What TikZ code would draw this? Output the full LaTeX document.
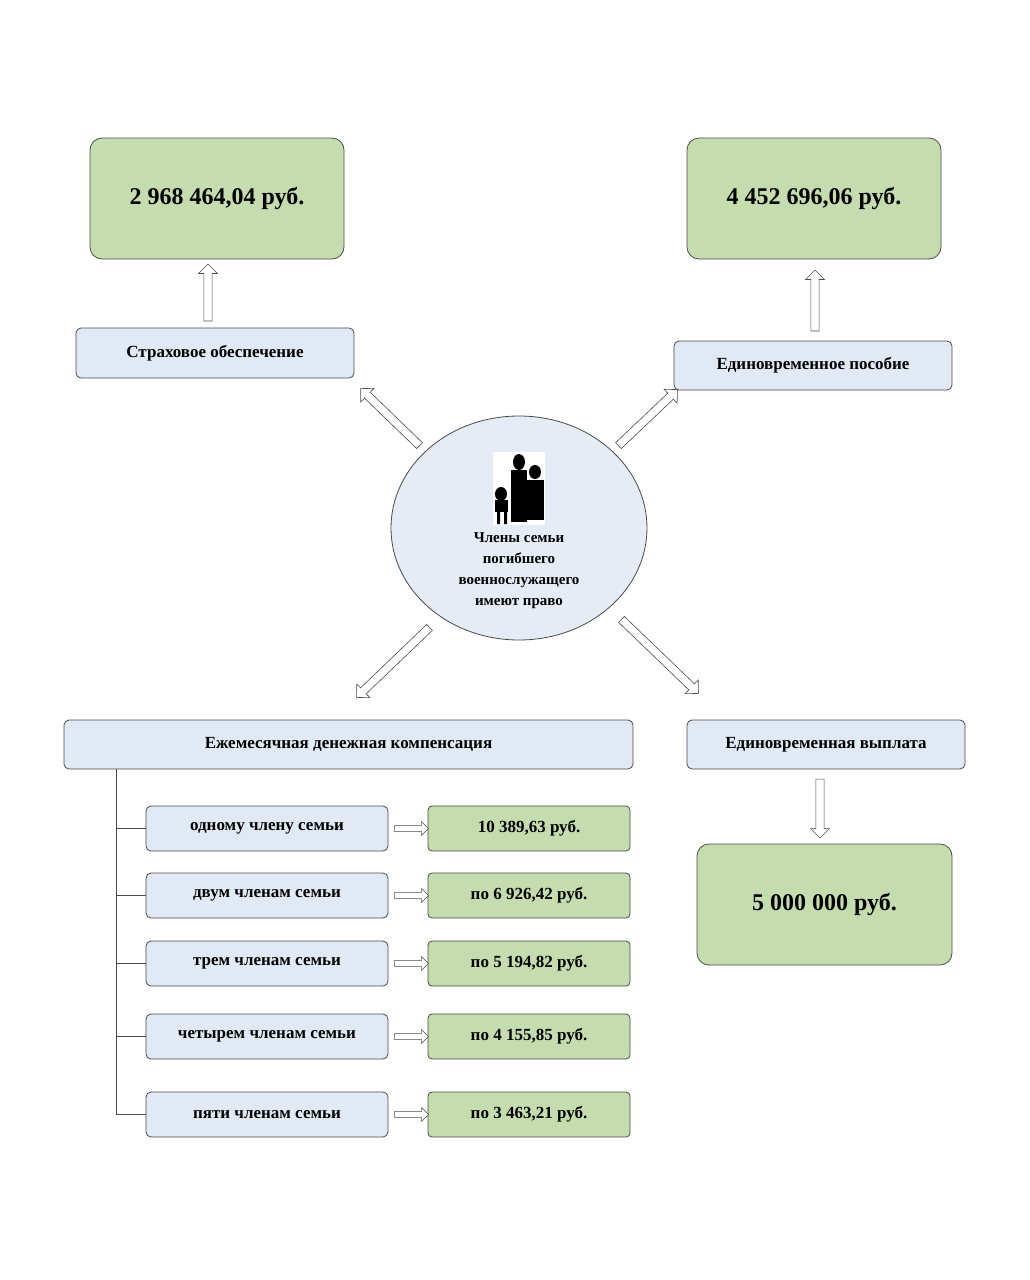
\documentclass[tikz,border=0pt]{standalone}
\usepackage{fontspec}
\setmainfont{Liberation Serif}
\usetikzlibrary{calc,shapes.arrows}
\definecolor{boxblue}{HTML}{E1E9F5}
\definecolor{circblue}{HTML}{E6ECF6}
\definecolor{boxgreen}{HTML}{C5DDAE}
\definecolor{edge}{HTML}{4A4A4A}
\newcommand\harrow[2]{%
  \path let \p1=($(#2)-(#1)$), \n1={veclen(\x1,\y1)} in
    (#1) -- (#2) node[hollow arrow, midway, sloped, allow upside down, minimum height=\n1]{};}
\begin{document}
\begin{tikzpicture}[x=1pt,y=-1pt,
        blue box/.style={draw=edge, fill=boxblue, rounded corners=5pt, line width=.8pt,
          font=\bfseries\fontsize{17}{20}\selectfont},
        green box/.style={draw=edge, fill=boxgreen, rounded corners=12pt, line width=.8pt,
          font=\bfseries\fontsize{24}{28}\selectfont},
        small green/.style={draw=edge, fill=boxgreen, rounded corners=4pt, line width=.8pt,
          font=\bfseries\fontsize{17}{20}\selectfont},
        hollow arrow/.style={single arrow, draw=edge, fill=white, line width=.6pt,
          minimum width=19pt, inner sep=3.5pt, single arrow head extend=5pt}]
  \useasboundingbox (0,0) rectangle (1030,1280);
  \fill[white] (0,0) rectangle (1030,1280);

  % top boxes
  \draw[green box] (90,138) rectangle (344,259) node[midway] (sumA) {2 968 464,04 руб.};
  \draw[green box] (687,138) rectangle (941,259) node[midway] (sumB) {4 452 696,06 руб.};
  \draw[blue box] (76,328) rectangle (354,378) node[midway] (insur) {Страховое обеспечение};
  \draw[blue box] (674,341) rectangle (952,390) node[midway] (allow) {Единовременное пособие};

  % centre
  \draw[edge, fill=circblue, line width=.8pt] (519,528) ellipse [x radius=128, y radius=112];
  \fill[white] (493,452) rectangle (545,525);
  \begin{scope}[black]
    \fill (519,462) ellipse [x radius=6, y radius=8];
    \fill (511,470) rectangle (527,522);
    \fill (535,472) ellipse [x radius=6, y radius=7];
    \fill (527,480) rectangle (544,520);
    \fill (501,494) ellipse [x radius=6, y radius=7];
    \fill (495,500) rectangle (508,512);
    \fill (497,512) rectangle (500,524) (504,512) rectangle (507,524);
  \end{scope}
  \node[align=center, font=\bfseries\fontsize{15}{21}\selectfont] (family) at (519,571)
    {Члены семьи\\погибшего\\военнослужащего\\имеют право};

  % bottom boxes
  \draw[blue box] (64,720) rectangle (633,769) node[midway] (month) {Ежемесячная денежная компенсация};
  \draw[blue box] (687,720) rectangle (965,769) node[midway] (lump) {Единовременная выплата};
  \draw[green box] (697,844) rectangle (952,965) node[midway] (sumC) {5 000 000 руб.};

  % arrows
  \coordinate (a1) at (208,323); \coordinate (a2) at (208,266);
  \coordinate (b1) at (815,333); \coordinate (b2) at (815,272);
  \coordinate (c1) at (820,777); \coordinate (c2) at (820,836);
  \coordinate (d1) at (421,447); \coordinate (d2) at (362,390);
  \coordinate (e1) at (617,447); \coordinate (e2) at (676,391);
  \coordinate (f1) at (431,626); \coordinate (f2) at (358,696);
  \coordinate (g1) at (620,618); \coordinate (g2) at (697,692);
  \harrow{a1}{a2} \harrow{b1}{b2} \harrow{c1}{c2}
  \harrow{d1}{d2} \harrow{e1}{e2} \harrow{f1}{f2} \harrow{g1}{g2}

  % monthly list
  \coordinate (trunk) at (116,769);
  \draw[edge, line width=.8pt] (trunk) -- (116,1114);
  \foreach \y/\who/\sum [count=\i] in {828.5/одному члену семьи/{10 389,63 руб.},
      895.5/двум членам семьи/{по 6 926,42 руб.},
      963.5/трем членам семьи/{по 5 194,82 руб.},
      1036.5/четырем членам семьи/{по 4 155,85 руб.},
      1114.5/пяти членам семьи/{по 3 463,21 руб.}}{
    \draw[blue box] (146,\y-22.5) rectangle (388,\y+22.5) node[midway] (who\i) {\who};
    \draw[small green] (428,\y-22.5) rectangle (630,\y+22.5) node[midway] (sum\i) {\sum};
    \draw[edge, line width=.8pt] (116,\y) -- (146,\y);
    \coordinate (p\i) at (393,\y); \coordinate (q\i) at (427,\y);
    \path (p\i) -- (q\i) node[hollow arrow, midway, minimum height=34pt, minimum width=14pt,
      inner sep=2.5pt, single arrow head extend=3.5pt]{};
  }
\end{tikzpicture}
\end{document}
